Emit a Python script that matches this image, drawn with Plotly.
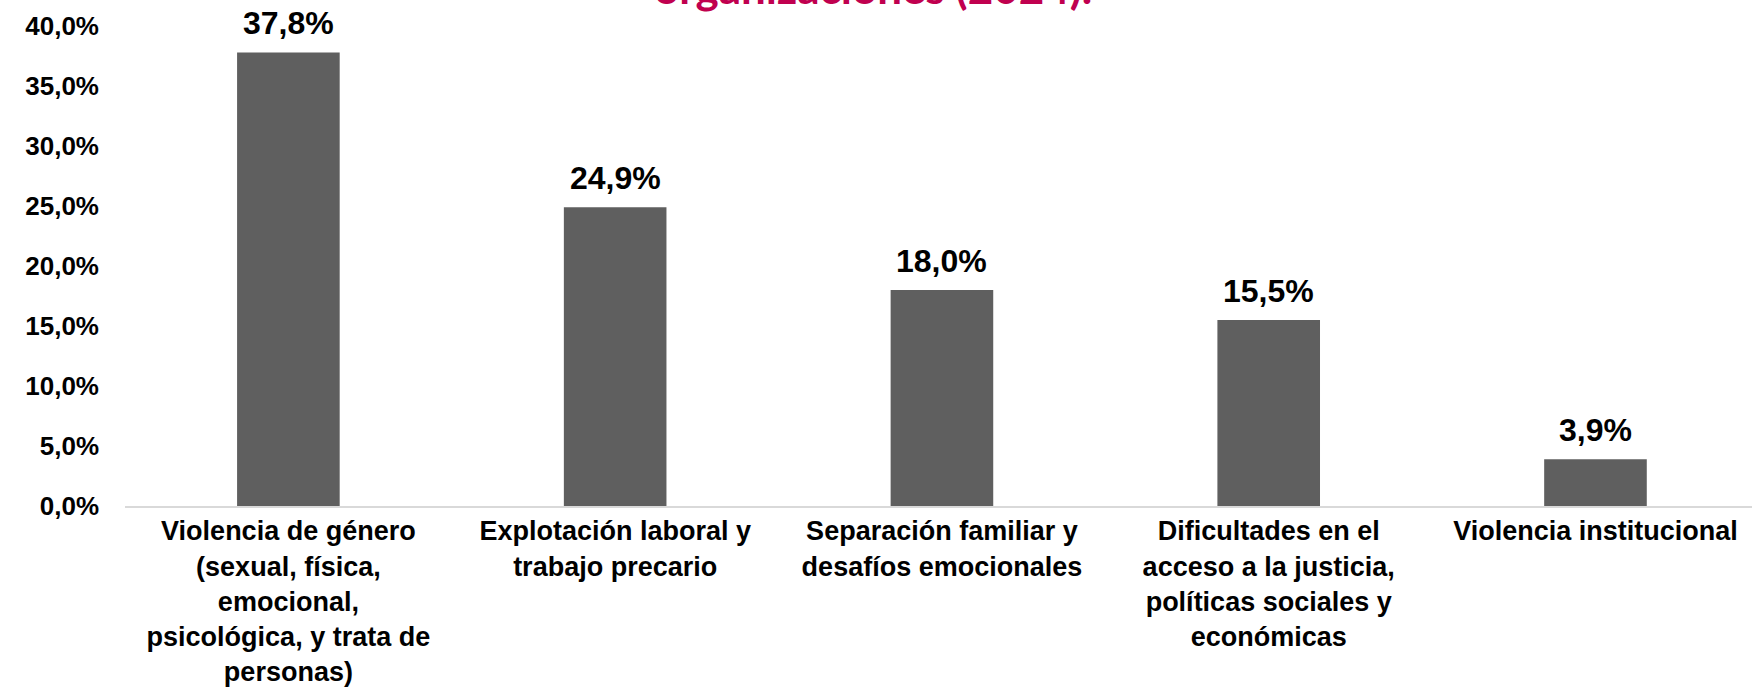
import plotly.graph_objects as go

categories = [
    "Violencia de género<br>(sexual, física,<br>emocional,<br>psicológica, y trata de<br>personas)",
    "Explotación laboral y<br>trabajo precario",
    "Separación familiar y<br>desafíos emocionales",
    "Dificultades en el<br>acceso a la justicia,<br>políticas sociales y<br>económicas",
    "Violencia institucional",
]
shares = [0.378, 0.249, 0.180, 0.155, 0.039]
title_text = "organizaciones (2024)."

BAR = "#5F5F5F"
TITLE_RED = "#C0004F"
FONT = "Liberation Sans, Arial, sans-serif"

fig = go.Figure()
fig.add_trace(
    go.Bar(
        x=categories,
        y=shares,
        marker_color=BAR,
        marker_line_width=0,
        hoverinfo="skip",
    )
)

# value labels above each bar
for cat, val in zip(categories, shares):
    fig.add_annotation(
        x=cat,
        y=val,
        text=f"{val * 100:.1f}%".replace(".", ","),
        showarrow=False,
        yanchor="middle",
        yshift=29,
        font=dict(family=FONT, size=32, color="black", weight="bold"),
    )

# title, mostly cut off at the top of the canvas
fig.add_annotation(
    x=0.46,
    xref="paper",
    y=1.023,
    yref="paper",
    text=title_text,
    showarrow=False,
    xanchor="center",
    yanchor="bottom",
    font=dict(family="Lato, sans-serif", size=44, color=TITLE_RED, weight="bold"),
)

fig.update_layout(
    width=1752,
    height=689,
    margin=dict(l=125, r=0, t=26, b=183),
    plot_bgcolor="white",
    paper_bgcolor="white",
    showlegend=False,
    bargap=0.686,
    separators=",.",
    font=dict(family=FONT, color="black"),
)
fig.update_xaxes(
    range=[-0.5, 4.479],
    automargin=False,
    showgrid=False,
    showline=True,
    linecolor="#D9D9D9",
    linewidth=2,
    ticks="",
    ticklabelstandoff=0,
    tickfont=dict(family=FONT, size=27, color="black", weight="bold"),
)
fig.update_yaxes(
    range=[0, 0.40],
    dtick=0.05,
    tickformat=".1%",
    automargin=False,
    showgrid=False,
    zeroline=False,
    showline=False,
    ticks="",
    ticklabelstandoff=25,
    tickfont=dict(family=FONT, size=26, color="black", weight="bold"),
)

# drop the browser's default body margin so the figure sits at the page corner
fig.write_html(
    "out.html",
    config={"displayModeBar": False},
    post_script="document.body.style.margin = '0';",
)
